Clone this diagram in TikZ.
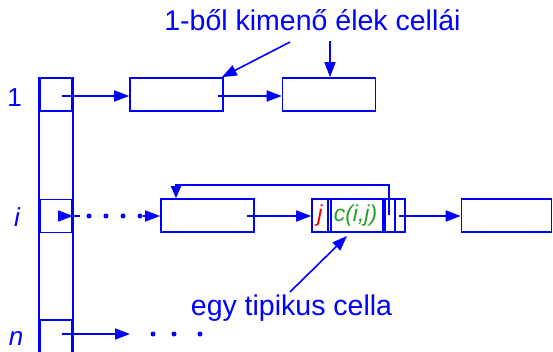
\documentclass[tikz,border=0pt]{standalone}
\usepackage{fontspec}
\setmainfont{Liberation Sans}
\usetikzlibrary{arrows.meta}
\definecolor{lblue}{RGB}{0,0,255}
\definecolor{lred}{RGB}{235,0,0}
\definecolor{lgreen}{RGB}{40,160,40}
\begin{document}
\begin{tikzpicture}[x=1pt,y=-1pt,
  cellbox/.style={draw=lblue, line width=1.6pt, rectangle, inner sep=0pt, minimum width=93pt, minimum height=33pt},
  acell/.style={draw=lblue, line width=1.6pt, rectangle, inner sep=0pt, minimum width=32pt, minimum height=33pt},
  ln/.style={draw=lblue, line width=1.6pt},
  ptr/.style={draw=lblue, line width=1.6pt, -{Triangle[length=15pt,width=11pt]}},
  sptr/.style={draw=lblue, line width=1.6pt, -{Triangle[length=12pt,width=10pt]}},
  lbl/.style={text=lblue, inner sep=0pt, font=\fontsize{28.5}{30}\selectfont},
  rowlbl/.style={text=lblue, inner sep=0pt, font=\fontsize{26}{28}\selectfont},
  dotst/.style={fill=lblue, circle, inner sep=0pt, minimum size=5pt}]
\useasboundingbox (0,0) rectangle (553,352);

% array column
\node[acell] (a1) at (56,94.5) {};
\node[acell] (ai) at (56,216) {};
\node[acell, minimum height=40pt] (an) at (56,340) {};
\draw[ln] (a1.north west) -- ++(0,290);
\draw[ln] (a1.north east) -- ++(0,290);

% row labels
\node[rowlbl, anchor=base] (l1) at (14.5,107) {1};
\node[rowlbl, anchor=base] (li) at (17,227) {\itshape i};
\node[rowlbl, anchor=base] (ln) at (16,345) {\itshape n};

% row 1 list
\node[cellbox] (b1) at (176.5,94.5) {};
\node[cellbox] (b2) at (329,94.5) {};
\coordinate (p1) at (62,96);
\draw[ptr] (p1) -- (b1.west |- p1);
\coordinate (q1) at (218,96);
\draw[ptr] (q1) -- (b2.west |- q1);

% title
\node[lbl, anchor=base] (t1) at (312.5,31) {1-ből kimenő élek cellái};
\coordinate (t1a) at (290,42);
\coordinate (t1b) at (330,41);
\draw[ptr] (t1a) -- ([xshift=-2pt]b1.north east);
\draw[ptr] (t1b) -- (b2.north -| t1b);

% row i
\node[cellbox] (bi1) at (207.5,215.5) {};
\node[cellbox] (cell) at (358.5,215.5) {};
\node[cellbox, minimum width=90pt] (bi3) at (506.5,215.5) {};
\coordinate (pi) at (62,216);
\coordinate (pi2) at (73,216);
\draw[ptr] (pi) -- (pi2);
\draw[ln] (pi2) -- ++(7,0);
\foreach \x in {89,106,123,140} \node[dotst] at (\x,216) {};
\coordinate (pd) at (143,216);
\draw[ptr] (pd) -- (bi1.west |- pd);
\coordinate (qi) at (247,216);
\draw[ptr] (qi) -- (cell.west |- qi);

% typical cell dividers
\draw[ln] (328,199) -- (328,232);
\draw[ln] (331,199) -- (331,232);
\draw[draw=lblue, line width=4pt] (384,199) -- (384,232);
\draw[ln] (395,199) -- (395,232);
\node[anchor=base, inner sep=0pt, text=lred, font=\fontsize{23}{24}\selectfont\itshape] (jt) at (320,222) {j};
\node[anchor=base, inner sep=0pt, text=lgreen, font=\fontsize{23}{24}\selectfont\itshape] (ct) at (355.5,222) {c(i,j)};

% back pointer
\coordinate (bp) at (389,215);
\draw[sptr] (bp) -- (389,185) -| ([xshift=-31.5pt]bi1.north);
% forward pointer
\coordinate (fp) at (399,216);
\draw[ptr] (fp) -- (bi3.west |- fp);

% typical cell label
\node[lbl, anchor=base] (t2) at (291.5,315) {egy tipikus cella};
\coordinate (t2a) at (290,292);
\draw[ptr] (t2a) -- (347,236);

% row n
\coordinate (pn) at (62,334);
\coordinate (pn2) at (130,334);
\draw[ptr] (pn) -- (pn2);
\foreach \x in {153,174,200} \node[dotst] at (\x,334) {};
\end{tikzpicture}
\end{document}
